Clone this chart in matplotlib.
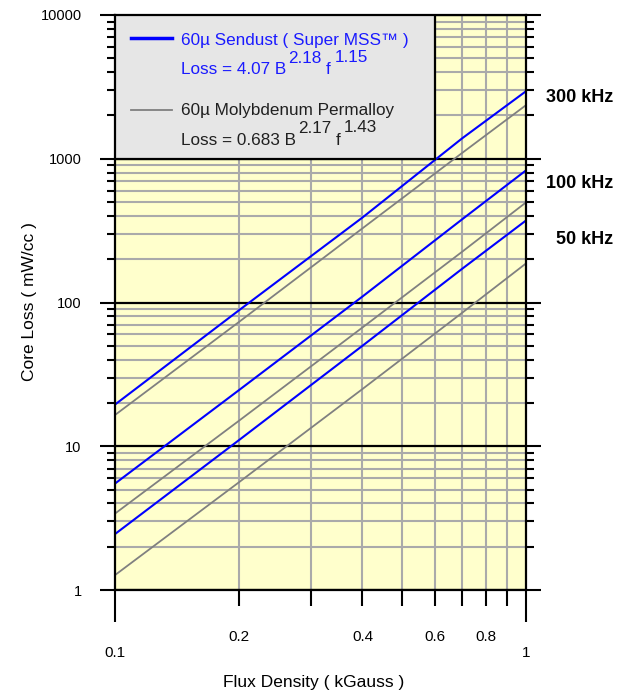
import numpy as np
import matplotlib
matplotlib.use('Agg')
import matplotlib.pyplot as plt
from matplotlib.lines import Line2D
from matplotlib.patches import Rectangle
from matplotlib.ticker import FixedLocator, FixedFormatter, NullFormatter

plt.rcParams['font.family'] = ['Liberation Sans', 'DejaVu Sans']

# flux density (kGauss) sample points
flux = [0.1, 0.2, 0.4, 0.7, 1.0]

# core loss (mW/cc)
sendust_300 = [19.5, 88, 390, 1390, 2950]
sendust_100 = [5.5, 24.5, 110, 380, 830]
sendust_50 = [2.45, 11, 50, 172, 372]
mpp_300 = [16.5, 73, 328, 1100, 2360]
mpp_100 = [3.4, 15, 67, 226, 497]
mpp_50 = [1.27, 5.6, 25, 85, 187]

freq_labels = ['300 kHz', '100 kHz', '50 kHz']
x_minor = [0.2, 0.3, 0.4, 0.5, 0.6, 0.7, 0.8, 0.9]
x_minor_labels = ['0.2', '', '0.4', '', '0.6', '', '0.8', '']

W, H = 627, 693


def fx(px):
    return px / W


def fy(py):
    return 1 - py / H


fig = plt.figure(figsize=(W / 100, H / 100), dpi=100)
ax = fig.add_axes([fx(115), fy(590), 411 / W, 575 / H])
ax.set_xscale('log')
ax.set_yscale('log')
ax.set_xlim(0.1, 1)
ax.set_ylim(1, 10000)
ax.set_facecolor('#FFFFCC')
ax.set_axisbelow(True)

ax.xaxis.set_major_locator(FixedLocator([0.1, 1]))
ax.xaxis.set_major_formatter(FixedFormatter(['0.1', '1']))
ax.xaxis.set_minor_locator(FixedLocator(x_minor))
ax.xaxis.set_minor_formatter(FixedFormatter(x_minor_labels))
ax.yaxis.set_major_locator(FixedLocator([1, 10, 100, 1000, 10000]))
ax.yaxis.set_major_formatter(FixedFormatter(['1', '10', '100', '1000', '10000']))
ax.yaxis.set_minor_locator(FixedLocator([m * 10 ** d for d in range(4) for m in range(2, 10)]))
ax.yaxis.set_minor_formatter(NullFormatter())

ax.grid(which='minor', color='#AAAAAA', linewidth=1.5)
ax.grid(which='major', axis='y', color='black', linewidth=1.6)

ax.tick_params(axis='x', which='major', direction='out', length=23, width=1.5,
               pad=17, labelsize=11, top=False)
ax.tick_params(axis='x', which='minor', direction='out', length=11.5, width=1.5,
               pad=17, labelsize=11, top=False)
ax.tick_params(axis='y', which='major', direction='out', length=11, width=1.5,
               pad=13, labelsize=10.5, left=True, right=True)
ax.tick_params(axis='y', which='minor', direction='out', length=6, width=1.5,
               left=True, right=True)
for s in ax.spines.values():
    s.set_linewidth(1.6)

ax.plot(flux, sendust_300, color='#0000FF', lw=1.5)
ax.plot(flux, sendust_100, color='#0000FF', lw=1.5)
ax.plot(flux, sendust_50, color='#0000FF', lw=1.5)
ax.plot(flux, mpp_300, color='#808080', lw=1.3)
ax.plot(flux, mpp_100, color='#808080', lw=1.3)
ax.plot(flux, mpp_50, color='#808080', lw=1.3)

# legend box covers the upper-left decade
ax.add_patch(Rectangle((0.1, 1000), 0.5, 9000, facecolor='#E6E6E6',
                       edgecolor='black', linewidth=1.6, zorder=3))

fig.text(fx(30), fy(302), 'Core Loss ( mW/cc )', rotation=90, ha='center', va='center', fontsize=12.5)
fig.text(fx(314), fy(683), 'Flux Density ( kGauss )', ha='center', va='center', fontsize=12.5)

renderer = fig.canvas.get_renderer()


def chain(parts, x0, base, color, size):
    # parts: list of (text, raise_px, gap_px)
    x = x0
    for txt, up, gap in parts:
        x += gap
        t = fig.text(fx(x), fy(base - up), txt, color=color, fontsize=size, zorder=5)
        x = t.get_window_extent(renderer).x1


blue_txt = '#1A1AFF'
dark_txt = '#202020'
fs = 12.3
fig.add_artist(Line2D([fx(131), fx(172)], [fy(38), fy(38)], color='#0000FF', lw=2.5, zorder=5))
fig.add_artist(Line2D([fx(131), fx(172)], [fy(110), fy(110)], color='#808080', lw=1.3, zorder=5))
fig.text(fx(181), fy(45), '60\u00b5 Sendust ( Super MSS\u2122 )', color=blue_txt, fontsize=fs, zorder=5)
chain([('Loss = 4.07 B', 0, 0), ('2.18', 11, 2), ('f', 0, 4), ('1.15', 12, 4)], 181, 74, blue_txt, fs)
fig.text(fx(181), fy(115), '60\u00b5 Molybdenum Permalloy', color=dark_txt, fontsize=fs, zorder=5)
chain([('Loss = 0.683 B', 0, 0), ('2.17', 12, 2), ('f', 0, 4), ('1.43', 13, 4)], 181, 145, dark_txt, fs)

# frequency labels on the right
for lab, yc in zip(freq_labels, [97, 183, 239]):
    fig.text(fx(613), fy(yc), lab, ha='right', va='center', fontsize=13, fontweight='bold')

fig.savefig('out.png', dpi=100)
